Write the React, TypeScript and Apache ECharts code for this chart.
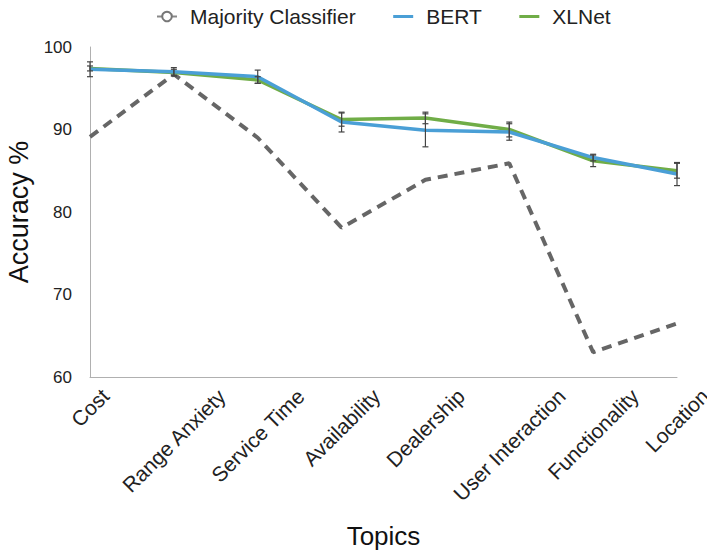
import React, { useEffect, useRef } from "react";
import * as echarts from "echarts";

const categories = ["Cost", "Range Anxiety", "Service Time", "Availability", "Dealership", "User Interaction", "Functionality", "Location"];
const majority = [89.1, 96.7, 89.0, 78.1, 83.9, 85.9, 63.0, 66.5];
const bert = [97.3, 97.0, 96.4, 90.9, 89.9, 89.7, 86.6, 84.6];
const xlnet = [97.4, 96.9, 96.0, 91.2, 91.4, 90.0, 86.2, 85.0];
const bertErr = [0.9, 0.5, 0.8, 1.2, 2.0, 1.0, 0.4, 1.4];
const xlnetErr = [0.3, 0.4, 0.4, 0.8, 0.7, 0.9, 0.7, 0.9];
const yTicks = [60, 70, 80, 90, 100];

const FONT = "'Liberation Sans', Arial, Helvetica, sans-serif";
const LABEL_SIZE = 21;
const BLUE = "#4a9fd6";
const GREEN = "#70ad47";
const GRAY = "#666";

export default function App() {
  const ref = useRef<HTMLDivElement>(null);
  useEffect(() => {
    if (!ref.current) return;
    const chart = echarts.init(ref.current, null, { renderer: "svg" });

    // measure label widths to center rotated labels with aligned tops
    const canvas = document.createElement("canvas");
    const ctx = canvas.getContext("2d")!;
    ctx.font = `${LABEL_SIZE}px ${FONT}`;
    const gridBottomY = 377;
    const margin = 6;
    const topY = 385;
    const h = LABEL_SIZE;
    const rich: Record<string, any> = {};
    categories.forEach((c, i) => {
      const L = ctx.measureText(c).width;
      const s = topY + 0.3536 * (L + h) - (gridBottomY + margin);
      const p = Math.max(0, s * Math.SQRT2);
      rich["c" + i] = {
        fontSize: LABEL_SIZE,
        fontFamily: FONT,
        color: "#222",
        padding: [p, p, 0, 0],
      };
    });

    const errData = (vals: number[], errs: number[]) =>
      vals.map((v, i) => [i, v - errs[i], v + errs[i]]);

    const renderErr = (params: any, api: any) => {
      const x = api.value(0);
      const lo = api.coord([x, api.value(1)]);
      const hi = api.coord([x, api.value(2)]);
      const w = 3;
      const style = { stroke: "#444", lineWidth: 1.2 };
      return {
        type: "group",
        children: [
          { type: "line", shape: { x1: lo[0], y1: lo[1], x2: hi[0], y2: hi[1] }, style },
          { type: "line", shape: { x1: lo[0] - w, y1: lo[1], x2: lo[0] + w, y2: lo[1] }, style },
          { type: "line", shape: { x1: hi[0] - w, y1: hi[1], x2: hi[0] + w, y2: hi[1] }, style },
        ],
      };
    };

    chart.setOption({
      animation: false,
      backgroundColor: "#fff",
      textStyle: { fontFamily: FONT },
      legend: {
        top: 1,
        left: 151,
        itemGap: 36,
        itemWidth: 20,
        itemHeight: 12,
        textStyle: { fontSize: 21, color: "#222", fontFamily: FONT, padding: [0, 0, 0, 8] },
        data: [
          {
            name: "Majority Classifier",
            itemStyle: { color: "#777" },
            lineStyle: { type: "solid", width: 2, color: "#888" },
          },
          { name: "BERT", icon: "line", itemStyle: { color: BLUE, borderColor: BLUE, borderWidth: 3 } },
          { name: "XLNet", icon: "line", itemStyle: { color: GREEN, borderColor: GREEN, borderWidth: 3 } },
        ],
      },
      grid: { left: 90, right: 30, top: 47, bottom: 176, outerBoundsMode: "none", containLabel: false },
      xAxis: {
        type: "category",
        data: categories,
        boundaryGap: false,
        name: "Topics",
        nameLocation: "middle",
        nameGap: 146,
        nameTextStyle: { fontSize: 26, color: "#111", fontFamily: FONT },
        axisLine: { lineStyle: { color: "#b0b0b0", width: 1 } },
        axisTick: { show: false },
        axisLabel: {
          interval: 0,
          rotate: 45,
          margin: margin,
          align: "center",
          verticalAlign: "middle",
          hideOverlap: false,
          formatter: (v: string) => `{c${categories.indexOf(v)}|${v}}`,
          rich,
        },
      },
      yAxis: {
        type: "value",
        min: yTicks[0],
        max: yTicks[yTicks.length - 1],
        interval: 10,
        name: "Accuracy %",
        nameLocation: "middle",
        nameGap: 45,
        nameTextStyle: { fontSize: 27, color: "#111", fontFamily: FONT },
        axisLine: { show: true, lineStyle: { color: "#b0b0b0", width: 1 } },
        axisTick: { show: false },
        splitLine: { show: false },
        axisLabel: { fontSize: 17, color: "#222", margin: 18, fontFamily: FONT },
      },
      series: [
        {
          name: "Majority Classifier",
          type: "line",
          data: majority,
          showSymbol: false,
          symbol: "emptyCircle",
          itemStyle: { color: GRAY },
          lineStyle: { color: GRAY, width: 4, type: [10, 7] },
          z: 1,
        },
        {
          name: "XLNet",
          type: "line",
          data: xlnet,
          symbol: "none",
          itemStyle: { color: GREEN },
          lineStyle: { color: GREEN, width: 3.5 },
          z: 2,
        },
        {
          name: "BERT",
          type: "line",
          data: bert,
          symbol: "none",
          itemStyle: { color: BLUE },
          lineStyle: { color: BLUE, width: 3.5 },
          z: 3,
        },
        {
          name: "BERT err",
          type: "custom",
          renderItem: renderErr,
          data: errData(bert, bertErr),
          encode: { x: 0, y: [1, 2] },
          z: 4,
          silent: true,
        },
        {
          name: "XLNet err",
          type: "custom",
          renderItem: renderErr,
          data: errData(xlnet, xlnetErr),
          encode: { x: 0, y: [1, 2] },
          z: 4,
          silent: true,
        },
      ],
    });
    return () => chart.dispose();
  }, []);
  return <div ref={ref} style={{ width: 707, height: 553, position: "absolute", left: 0, top: 0 }} />;
}
